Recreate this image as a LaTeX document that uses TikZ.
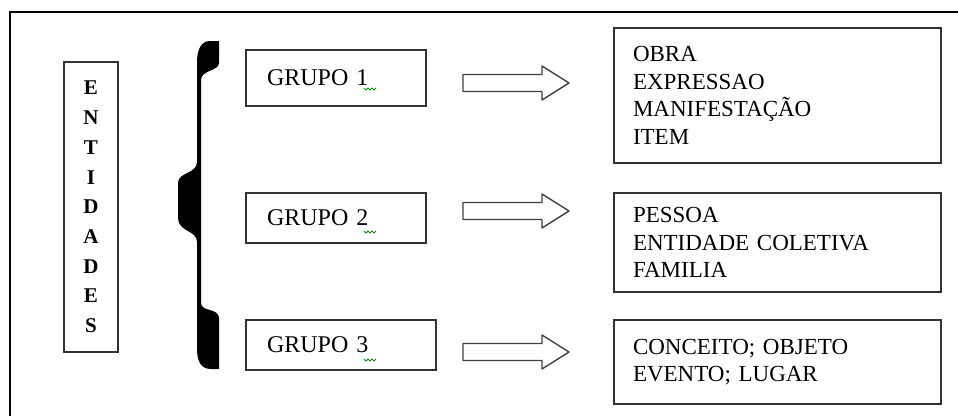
\documentclass[tikz,border=0pt]{standalone}
\usepackage{fontspec}
\setmainfont{Liberation Serif}
\begin{document}
\begin{tikzpicture}[x=1pt,y=-1pt, line width=1.4pt]
    \tikzset{caixa/.style={draw=black!80, line width=1.4pt, inner ysep=0pt, align=left, font=\fontsize{23}{27.5}\selectfont}}
    \tikzset{grupo/.style={caixa, inner xsep=21pt, font=\fontsize{24}{27}\selectfont}}
    \tikzset{seta/.style={draw=black!75, line width=1.4pt, line join=round}}
    \tikzset{rabisco/.style={draw=green!55!black, line width=0.8pt}}
    \useasboundingbox (0,0) rectangle (958,416);
    \draw [black] (10,416) -- (10,12) -- (958,12);
    % entidades
    \node [caixa, align=center, inner sep=0pt, minimum width=54pt, minimum height=290pt, font=\fontsize{21}{29.7}\selectfont\bfseries] (ent) at (91,207) {E\\N\\T\\I\\D\\A\\D\\E\\S};
    % chave
    \fill [black] (219,41) -- (219,63) .. controls (219,71) and (201,70) .. (201,80) -- (201,303)
        .. controls (201,312) and (219,308) .. (219,318) -- (219,369) -- (211,369)
        .. controls (200,369) and (197,360) .. (197,348) -- (197,242)
        .. controls (197,230) and (178,232) .. (178,218) -- (178,183)
        .. controls (178,172) and (197,174) .. (197,162) -- (197,62)
        .. controls (197,50) and (201,41) .. (210,41) -- cycle;
    % grupos
    \node [grupo, text width=138pt, minimum height=56pt] (g1) at (336,78) {GRUPO 1};
    \node [grupo, text width=138pt, minimum height=50pt] (g2) at (336,218) {GRUPO 2};
    \node [grupo, text width=148pt, minimum height=50pt] (g3) at (341,345) {GRUPO 3};
    \foreach \y in {88,231,359}
        \draw [rabisco] (364,\y) -- ++(2,2) -- ++(2,-2) -- ++(2,2) -- ++(2,-2) -- ++(2,2) -- ++(2,-2);
    % setas
    \foreach \y in {83,211,352}
        \draw [seta] (463,{\y-8.5}) -- (542,{\y-8.5}) -- (542,{\y-17}) -- (569,\y) -- (542,{\y+17})
            -- (542,{\y+8.5}) -- (463,{\y+8.5}) -- cycle;
    % entidades de cada grupo
    \node [caixa, inner xsep=19pt, text width=289pt, minimum height=135pt] (b1) at (777.5,95.5)
        {OBRA\\EXPRESSAO\\MANIFESTAÇÃO\\ITEM};
    \node [caixa, inner xsep=19pt, text width=289pt, minimum height=99pt] (b2) at (777.5,242.5)
        {PESSOA\\ENTIDADE COLETIVA\\FAMILIA};
    \node [caixa, inner xsep=19pt, text width=289pt, minimum height=84pt] (b3) at (777.5,362)
        {CONCEITO; OBJETO\\EVENTO; LUGAR};
\end{tikzpicture}
\end{document}
